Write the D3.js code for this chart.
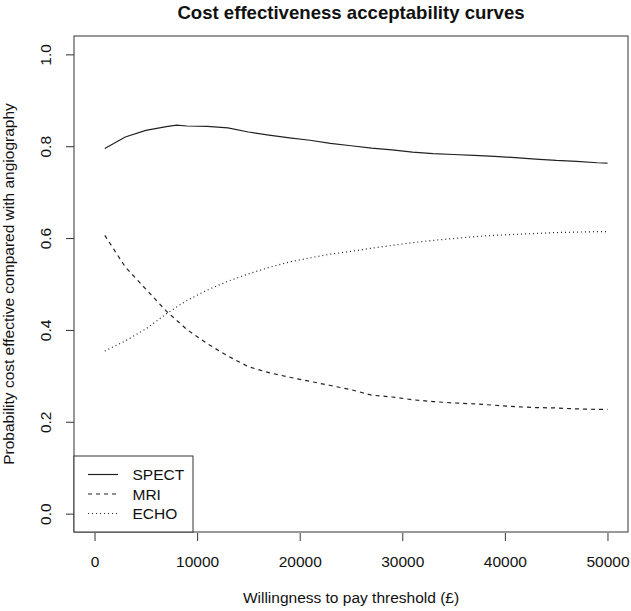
<!DOCTYPE html>
<html>
<head>
<meta charset="utf-8">
<script src="https://cdn.jsdelivr.net/npm/d3@7"></script>
<style>
  html, body { margin: 0; padding: 0; background: #fff; }
  svg { display: block; font-family: "Liberation Sans", Arial, Helvetica, sans-serif; }
</style>
</head>
<body>
<svg id="chart" width="631" height="611"></svg>
<script>
// ---- data ----
const thresholds = [1000, 3000, 5000, 7000, 8000, 9000, 11000, 13000, 15000, 17000, 19000, 21000, 23000, 25000, 27000, 29000, 31000, 33000, 35000, 37000, 39000, 41000, 43000, 45000, 47000, 49000, 50000];
const spect = [0.795, 0.820, 0.8345, 0.8426, 0.846, 0.844, 0.843, 0.840, 0.831, 0.824, 0.818, 0.813, 0.806, 0.801, 0.796, 0.792, 0.787, 0.784, 0.782, 0.780, 0.778, 0.775, 0.772, 0.769, 0.767, 0.764, 0.763];
const mri   = [0.606, 0.537, 0.489, 0.441, 0.421, 0.401, 0.370, 0.343, 0.320, 0.307, 0.297, 0.288, 0.279, 0.270, 0.258, 0.254, 0.248, 0.244, 0.241, 0.239, 0.236, 0.233, 0.231, 0.230, 0.228, 0.227, 0.227];
const echo  = [0.354, 0.376, 0.402, 0.435, 0.450, 0.464, 0.487, 0.506, 0.522, 0.536, 0.548, 0.557, 0.565, 0.571, 0.578, 0.584, 0.590, 0.595, 0.599, 0.603, 0.606, 0.608, 0.610, 0.612, 0.613, 0.614, 0.614];
const seriesNames = ["SPECT", "MRI", "ECHO"];
const xTicks = [0, 10000, 20000, 30000, 40000, 50000];
const yTicks = [0.0, 0.2, 0.4, 0.6, 0.8, 1.0];
const titleText = "Cost effectiveness acceptability curves";
const xLabel = "Willingness to pay threshold (£)";
const yLabel = "Probability cost effective compared with angiography";

// ---- layout ----
const box = { left: 74, right: 628, top: 36, bottom: 532 };
const ink = "#222";
const fs = 15.5;
const dashes = { SPECT: null, MRI: "4,4", ECHO: "1,3" };

const svg = d3.select("#chart");
const x = d3.scaleLinear().domain([-2000, 52000]).range([box.left, box.right]);
const y = d3.scaleLinear().domain([-0.04, 1.04]).range([box.bottom, box.top]);

// title
svg.append("text")
  .attr("x", (box.left + box.right) / 2).attr("y", 19)
  .attr("text-anchor", "middle")
  .attr("font-weight", "bold").attr("font-size", fs * 1.2)
  .attr("fill", "#111")
  .text(titleText);

// x axis (R style)
const xAxis = d3.axisBottom(x).tickValues(xTicks).tickFormat(d3.format("d")).tickSize(8).tickPadding(0);
const gx = svg.append("g").attr("transform", `translate(0,${box.bottom + 1})`).call(xAxis);
gx.select(".domain").remove();
gx.selectAll("line").attr("stroke", "#333");
gx.selectAll("text").attr("font-size", fs).attr("fill", "#111")
  .attr("y", 34).attr("dy", 0).attr("font-family", null);

// y axis
const yAxis = d3.axisLeft(y).tickValues(yTicks).tickFormat(d3.format(".1f")).tickSize(8).tickPadding(0);
const gy = svg.append("g").attr("transform", `translate(${box.left},0)`).call(yAxis);
gy.select(".domain").remove();
gy.selectAll("line").attr("stroke", "#333");
gy.selectAll("text").attr("font-size", fs).attr("fill", "#111")
  .attr("font-family", null)
  .attr("x", null).attr("dy", null)
  .attr("text-anchor", "middle")
  .attr("transform", "translate(-23,0) rotate(-90)");

// plot box
svg.append("rect")
  .attr("x", box.left).attr("y", box.top)
  .attr("width", box.right - box.left).attr("height", box.bottom - box.top)
  .attr("fill", "none").attr("stroke", "#333").attr("stroke-width", 1);

// axis titles
svg.append("text")
  .attr("x", (box.left + box.right) / 2).attr("y", 603)
  .attr("text-anchor", "middle").attr("font-size", fs).attr("fill", "#111")
  .text(xLabel);
svg.append("text")
  .attr("transform", `translate(14,${(box.top + box.bottom) / 2}) rotate(-90)`)
  .attr("text-anchor", "middle").attr("font-size", fs).attr("fill", "#111")
  .text(yLabel);

// curves
const data = { SPECT: spect, MRI: mri, ECHO: echo };
const line = d3.line().x((d, i) => x(thresholds[i])).y(d => y(d));
seriesNames.forEach(name => {
  svg.append("path")
    .datum(data[name])
    .attr("d", line)
    .attr("fill", "none")
    .attr("stroke", ink)
    .attr("stroke-width", 1.2)
    .attr("stroke-dasharray", dashes[name]);
});

// legend
const lg = { left: 74, right: 193, top: 456, bottom: 532 };
svg.append("rect")
  .attr("x", lg.left).attr("y", lg.top)
  .attr("width", lg.right - lg.left).attr("height", lg.bottom - lg.top)
  .attr("fill", "#fff").attr("stroke", "#333").attr("stroke-width", 1);
const rowY = [474.5, 494, 513.5];
seriesNames.forEach((name, i) => {
  svg.append("line")
    .attr("x1", 88).attr("x2", 118)
    .attr("y1", rowY[i]).attr("y2", rowY[i])
    .attr("stroke", ink).attr("stroke-width", 1.2)
    .attr("stroke-dasharray", dashes[name]);
  svg.append("text")
    .attr("x", 132.5).attr("y", rowY[i] + 5.5)
    .attr("font-size", fs).attr("fill", "#111")
    .text(name);
});
</script>
</body>
</html>
